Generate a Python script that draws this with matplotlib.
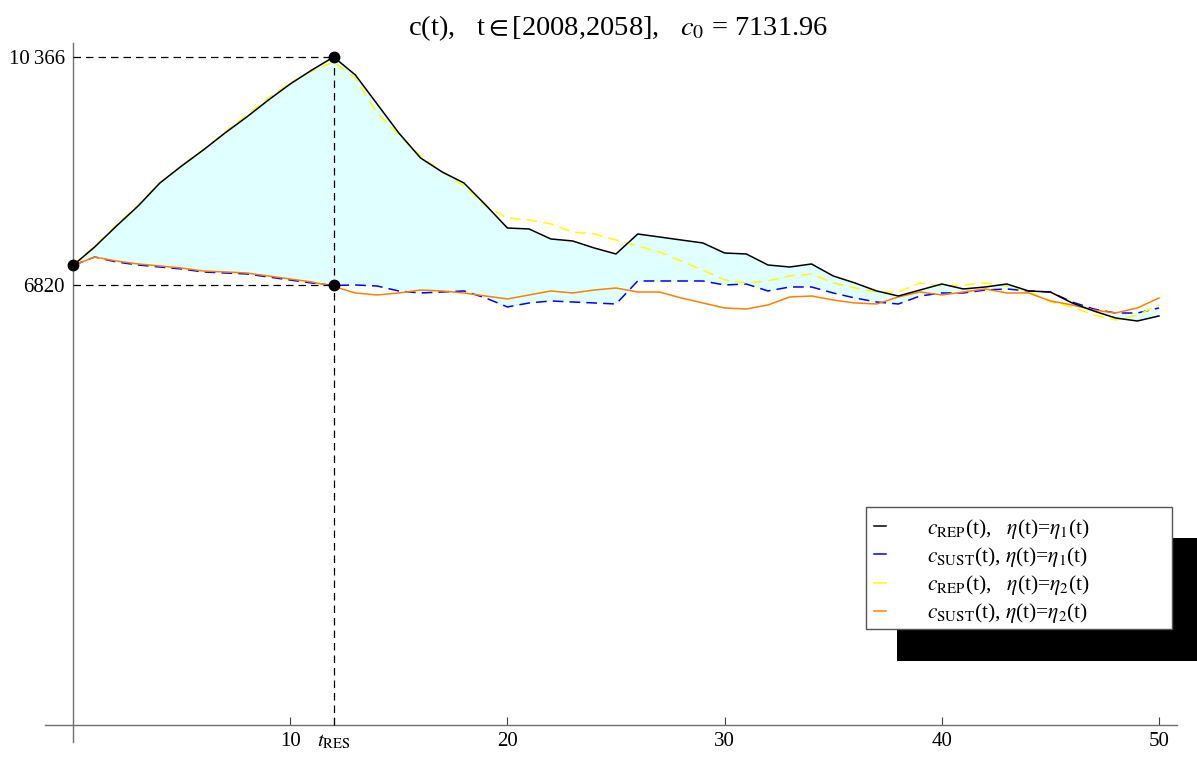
#!/usr/bin/env python3
"""Consumption paths c(t) for the repressive and sustainable scenarios."""

import matplotlib
matplotlib.use("Agg")
import matplotlib.pyplot as plt
from matplotlib.patches import Rectangle

plt.rcParams["font.family"] = ["Liberation Serif", "DejaVu Serif"]
plt.rcParams["mathtext.fontset"] = "stix"

W, H = 1197, 763

# years after 2008
t = list(range(51))

c_rep_eta1 = [
    7132, 7418, 7743, 8054, 8411, 8675, 8923, 9187, 9435, 9699,
    9947, 10164, 10366, 10087, 9637, 9187, 8799, 8581, 8411, 8069,
    7712, 7697, 7542, 7511, 7402, 7309, 7619, 7573, 7526, 7480,
    7324, 7309, 7138, 7107, 7154, 6968, 6859, 6735, 6657, 6750,
    6843, 6766, 6797, 6843, 6735, 6719, 6549, 6424, 6316, 6269,
    6347,
]
c_sust_eta1 = [
    7132, 7262, 7185, 7138, 7107, 7076, 7030, 7014, 6999, 6952,
    6905, 6859, 6820, 6828, 6812, 6735, 6704, 6719, 6735, 6626,
    6487, 6549, 6580, 6564, 6549, 6533, 6890, 6890, 6890, 6890,
    6828, 6843, 6735, 6797, 6797, 6704, 6626, 6564, 6533, 6657,
    6704, 6704, 6750, 6766, 6735, 6719, 6564, 6455, 6393, 6393,
    6471,
]
c_rep_eta2 = [
    7132, 7433, 7759, 8069, 8411, 8675, 8923, 9202, 9466, 9730,
    9963, 10149, 10288, 10040, 9497, 9156, 8830, 8581, 8364, 8054,
    7868, 7837, 7775, 7650, 7619, 7526, 7433, 7340, 7200, 7061,
    6905, 6859, 6890, 6968, 6999, 6859, 6781, 6719, 6719, 6859,
    6812, 6828, 6859, 6812, 6735, 6564, 6487, 6362, 6285, 6362,
    6518,
]
c_sust_eta2 = [
    7132, 7262, 7200, 7154, 7123, 7091, 7045, 7030, 7014, 6968,
    6921, 6874, 6805, 6704, 6673, 6704, 6750, 6735, 6704, 6657,
    6611, 6673, 6735, 6704, 6750, 6781, 6719, 6719, 6626, 6549,
    6471, 6455, 6518, 6642, 6657, 6595, 6549, 6533, 6642, 6719,
    6673, 6719, 6766, 6704, 6704, 6580, 6518, 6440, 6393, 6471,
    6626,
]

c0 = 7131.96
t_res = 12
c_max = 10366
c_res = 6820

x_ticks = [10, 12, 20, 30, 40, 50]
x_tick_labels = ["10", r"$t_{\mathrm{RES}}$", "20", "30", "40", "50"]
y_ticks = [c_res, c_max]
y_tick_labels = ["6820", "10\u2009366"]

labels = [
    r"$c_{\mathrm{REP}}$(t),   $\eta$(t)=$\eta_1$(t)",
    r"$c_{\mathrm{SUST}}$(t), $\eta$(t)=$\eta_1$(t)",
    r"$c_{\mathrm{REP}}$(t),   $\eta$(t)=$\eta_2$(t)",
    r"$c_{\mathrm{SUST}}$(t), $\eta$(t)=$\eta_2$(t)",
]


def fig_box(x0, y0, x1, y1):
    """Pixel box (top-left origin) -> figure-fraction rectangle args."""
    return (x0 / W, 1 - y1 / H), (x1 - x0) / W, (y1 - y0) / H


def main() -> None:
    fig = plt.figure(figsize=(W / 100, H / 100), dpi=100)
    ax = fig.add_axes([45 / W, 21 / H, 1132 / W, 699 / H])

    ax.fill_between(t, c_rep_eta1, c_sust_eta1, color="#e0ffff", lw=0, zorder=1)

    ax.plot(t, c_rep_eta1, color="black", lw=1.1, zorder=4, label=labels[0])
    ax.plot(t, c_sust_eta1, color="#0000ff", lw=1.1, dashes=(7, 4), zorder=3,
            label=labels[1])
    ax.plot(t, c_rep_eta2, color="#ffff00", lw=1.1, dashes=(7, 4), zorder=3,
            label=labels[2])
    ax.plot(t, c_sust_eta2, color="#ff8000", lw=1.1, zorder=3, label=labels[3])

    # guide lines to the peak and to the value at t_RES
    dash = dict(color="black", lw=0.9, dashes=(6, 4), zorder=5)
    ax.plot([0, t_res], [c_max, c_max], **dash)
    ax.plot([0, t_res], [c_res, c_res], **dash)
    ax.plot([t_res, t_res], [0, c_max], **dash)
    ax.plot([0, t_res, t_res], [c0, c_max, c_res], "o", color="black",
            ms=7.5, zorder=6)

    ax.set_xlim(-1.29, 50.83)
    ax.set_ylim(-264, 10583)

    for side in ("top", "right"):
        ax.spines[side].set_visible(False)
    ax.spines["left"].set_position(("data", 0))
    ax.spines["bottom"].set_position(("data", 0))
    for side in ("left", "bottom"):
        ax.spines[side].set_color("#707070")
        ax.spines[side].set_linewidth(1.0)

    ax.set_xticks(x_ticks)
    ax.set_xticklabels(x_tick_labels, fontsize=15)
    ax.set_yticks(y_ticks)
    ax.set_yticklabels(y_tick_labels, fontsize=15)
    ax.tick_params(axis="x", direction="in", length=6, width=0.8,
                   color="#404040", pad=5)
    ax.tick_params(axis="y", length=0, pad=6)

    ax.set_title(r"c(t),   t$\in$[2008,2058],   $c_0$ = 7131.96",
                 fontsize=20.5, pad=4, x=0.506)

    # legend frame with its offset drop shadow
    xy, w, h = fig_box(897, 538, 1210, 661)
    ax.add_patch(Rectangle(xy, w, h, transform=fig.transFigure, clip_on=False,
                           fc="black", ec="none", zorder=10))
    xy, w, h = fig_box(866, 507, 1172, 629)
    ax.add_patch(Rectangle(xy, w, h, transform=fig.transFigure, clip_on=False,
                           fc="white", ec="#555555", lw=1.0, zorder=11))

    leg = ax.legend(
        loc="upper left",
        bbox_to_anchor=(866 / W, 1 - 509 / H),
        bbox_transform=fig.transFigure,
        fontsize=15.5,
        handlelength=0.6,
        handletextpad=1.9,
        labelspacing=0.2,
        borderpad=0.35,
        borderaxespad=0,
        frameon=False,
    )
    leg.set_zorder(12)
    for line in leg.get_lines():
        line.set_linestyle("-")

    fig.savefig("out.png", dpi=100)


if __name__ == "__main__":
    main()
